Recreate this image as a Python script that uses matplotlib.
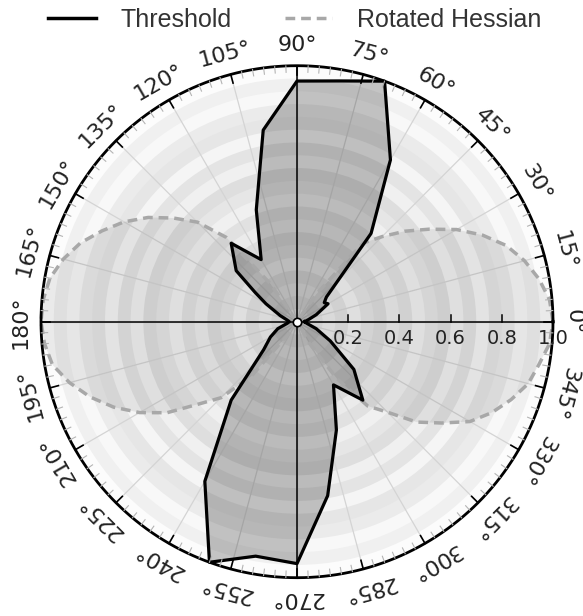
import numpy as np
import matplotlib.pyplot as plt
from matplotlib.lines import Line2D
from matplotlib.patches import Circle

# threshold response, angle in degrees -> normalised magnitude
thr_angle = [0, 10, 20, 30, 35, 40, 50, 60, 70, 80, 90, 100, 110, 120, 130, 140,
             145, 150, 160, 170, 180, 190, 200, 210, 220, 230, 240, 250, 260, 270,
             280, 290, 300, 310, 320, 330, 340, 350]
thr_r = [0.03, 0.045, 0.08, 0.14, 0.13, 0.15, 0.45, 0.73, 1.0, 0.955, 0.94, 0.76,
         0.465, 0.28, 0.40, 0.31, 0.20, 0.14, 0.07, 0.04, 0.03, 0.04, 0.08, 0.12,
         0.17, 0.40, 0.72, 1.0, 0.93, 0.945, 0.69, 0.45, 0.285, 0.40, 0.29, 0.15,
         0.08, 0.04]

# rotated hessian response
hes_angle = [0, 5, 10, 15, 20, 25, 30, 35, 40, 45, 50, 55, 60, 90, 120, 125, 130,
             135, 140, 145, 150, 155, 160, 165, 170, 175, 180, 185, 190, 195, 200,
             205, 210, 215, 220, 225, 230, 235, 240, 270, 295, 300, 305, 310, 315,
             320, 325, 330, 335, 340, 345, 350, 355]
hes_r = [1.0, 0.99, 0.96, 0.92, 0.87, 0.80, 0.72, 0.63, 0.55, 0.47, 0.40, 0.13, 0.0,
         0.0, 0.0, 0.18, 0.43, 0.55, 0.63, 0.71, 0.78, 0.84, 0.90, 0.945, 0.98, 0.995,
         1.0, 0.99, 0.97, 0.92, 0.86, 0.79, 0.71, 0.62, 0.50, 0.42, 0.28, 0.06, 0.0,
         0.0, 0.0, 0.10, 0.27, 0.43, 0.50, 0.61, 0.69, 0.78, 0.84, 0.89, 0.935, 0.96,
         0.99]

# background rings: outer radius and grey level
ring_outer = [0.05, 0.10, 0.15, 0.20, 0.25, 0.30, 0.35, 0.40, 0.45, 0.50, 0.55,
              0.60, 0.65, 0.70, 0.75, 0.80, 0.85, 0.90, 0.95, 1.00]
ring_grey = [240, 225, 235, 225, 240, 228, 220, 235, 225, 240, 230, 222, 240, 228,
             245, 230, 235, 248, 240, 252]

deg_ticks = list(range(0, 360, 15))
r_ticks = [0.2, 0.4, 0.6, 0.8, 1.0]
r_labels = ['0.2', '0.4', '0.6', '0.8', '1.0']


def to_xy(angle, r, close=True):
    a = np.deg2rad(np.asarray(angle, dtype=float))
    r = np.asarray(r, dtype=float)
    x, y = r * np.cos(a), r * np.sin(a)
    if close:
        x, y = np.append(x, x[0]), np.append(y, y[0])
    return x, y


fig = plt.figure(figsize=(5.83, 6.16), dpi=100)
ax = fig.add_axes([0, 0, 1, 1])
ax.set_xlim(-297 / 256, (583 - 297) / 256)
ax.set_ylim(-(616 - 321.7) / 256, 321.7 / 256)
ax.axis('off')

# rings, largest first
for ro, g in sorted(zip(ring_outer, ring_grey), reverse=True):
    ax.add_patch(Circle((0, 0), ro, color=str(g / 255), lw=0, zorder=1))

# radial grid
for d in deg_ticks:
    ax.plot([0, np.cos(np.deg2rad(d))], [0, np.sin(np.deg2rad(d))],
            color='#d4d4d4', lw=0.9, zorder=2)

hx, hy = to_xy(hes_angle, hes_r)
ax.fill(hx, hy, color='k', alpha=0.07, lw=0, zorder=3)
tx, ty = to_xy(thr_angle, thr_r)
ax.fill(tx, ty, color='k', alpha=0.22, lw=0, zorder=4)
ax.plot(hx, hy, color='#a8a8a8', lw=2.5, dashes=(2.8, 1.7), zorder=5)
ax.plot(tx, ty, color='k', lw=2.3, zorder=6)

# cross hair and radial ticks
ax.plot([-1, 1], [0, 0], color='k', lw=1.1, zorder=7)
ax.plot([0, 0], [-1, 1], color='k', lw=1.1, zorder=7)
for v, lab in zip(r_ticks, r_labels):
    ax.plot([v, v], [0, 0.028], color='k', lw=1.1, zorder=7)
    ax.text(v, -0.03, lab, ha='center', va='top', fontsize=14,
            family='DejaVu Sans', color='#222222', zorder=9)

# outer ring with ticks
circ = np.linspace(0, 2 * np.pi, 721)
ax.plot(np.cos(circ), np.sin(circ), color='k', lw=2, zorder=8)
for d in np.arange(0, 360, 2.5):
    c, s = np.cos(np.deg2rad(d)), np.sin(np.deg2rad(d))
    if d % 15 == 0:
        ax.plot([0.965 * c, c], [0.965 * s, s], color='k', lw=1.2, zorder=8)
    else:
        ax.plot([0.975 * c, c], [0.975 * s, s], color='#b4b4b4', lw=0.8, zorder=8)

for d in deg_ticks:
    c, s = np.cos(np.deg2rad(d)), np.sin(np.deg2rad(d))
    ax.text(1.08 * c, 1.08 * s, f'{d}\u00b0', rotation=d - 90,
            rotation_mode='anchor', ha='center', va='center', fontsize=16,
            family='DejaVu Sans', color='#222222')

ax.plot([0], [0], marker='o', ms=6, mfc='white', mec='k', mew=1.2, zorder=10)

handles = [Line2D([], [], color='k', lw=2.5),
           Line2D([], [], color='#a8a8a8', lw=2.5, dashes=(2.8, 1.7))]
fig.legend(handles, ['Threshold', 'Rotated Hessian'], loc='center',
           bbox_to_anchor=(0.506, 0.968), ncol=2, frameon=False,
           handlelength=1.9, handletextpad=1.0, columnspacing=2.1,
           prop={'family': 'Liberation Sans', 'size': 18}, labelcolor='#333333')

fig.savefig('out.png', dpi=100)
